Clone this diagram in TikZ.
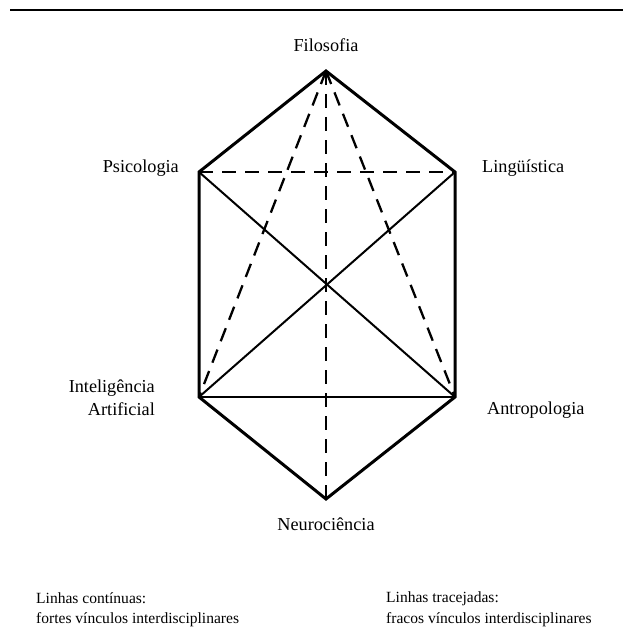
\documentclass[tikz,border=0pt]{standalone}
\usepackage{fontspec}
\setmainfont{Liberation Serif}
\usetikzlibrary{positioning}

\begin{document}
\begin{tikzpicture}[x=1bp,y=-1bp,
  strong/.style={line width=3bp,line join=miter},
  weak/.style={line width=2.3bp,dash pattern=on 14bp off 9bp},
  mid/.style={line width=2bp},
  area/.style={font=\fontsize{18.3}{23}\selectfont,inner sep=0pt},
  legend/.style={font=\fontsize{15.6}{21}\selectfont,align=left,anchor=north west,inner sep=0pt}]
\useasboundingbox (0,0) rectangle (623,634);
\draw[line width=1.5bp] (10,10) -- (623,10);
% vertices
\coordinate (filo) at (326,71);
\coordinate (psic) at (199,172);
\coordinate (ling) at (455,172);
\coordinate (ia) at (199,397);
\coordinate (antro) at (455,397);
\coordinate (neuro) at (326,499);
% labels
\node[area,anchor=south] (lfilo) at (326,52) {Filosofia};
\node[area,anchor=east] (lpsic) at (179,168) {Psicologia};
\node[area,anchor=west] (lling) at (482,168) {Lingüística};
\node[area,anchor=east,align=right] (lia) at (155,398) {Inteligência\\Artificial};
\node[area,anchor=west] (lantro) at (487,410) {Antropologia};
\node[area,anchor=north] (lneuro) at (326,518) {Neurociência};
% weak links
\draw[weak] (psic) -- (ling);
\draw[weak] (filo) -- (ia);
\draw[weak] (filo) -- (antro);
\draw[weak] (filo) -- (neuro);
% strong links
\draw[mid] (psic) -- (antro);
\draw[mid] (ling) -- (ia);
\draw[mid,line width=2.5bp] (ia) -- (antro);
\draw[strong] (ia) -- (psic) -- (filo) -- (ling) -- (antro) -- (neuro) -- cycle;
% legend
\node[legend] (lcont) at (36,592) {Linhas contínuas:\\fortes vínculos interdisciplinares};
\node[legend] (ltrac) at (386,592) {Linhas tracejadas:\\fracos vínculos interdisciplinares};
\end{tikzpicture}
\end{document}
